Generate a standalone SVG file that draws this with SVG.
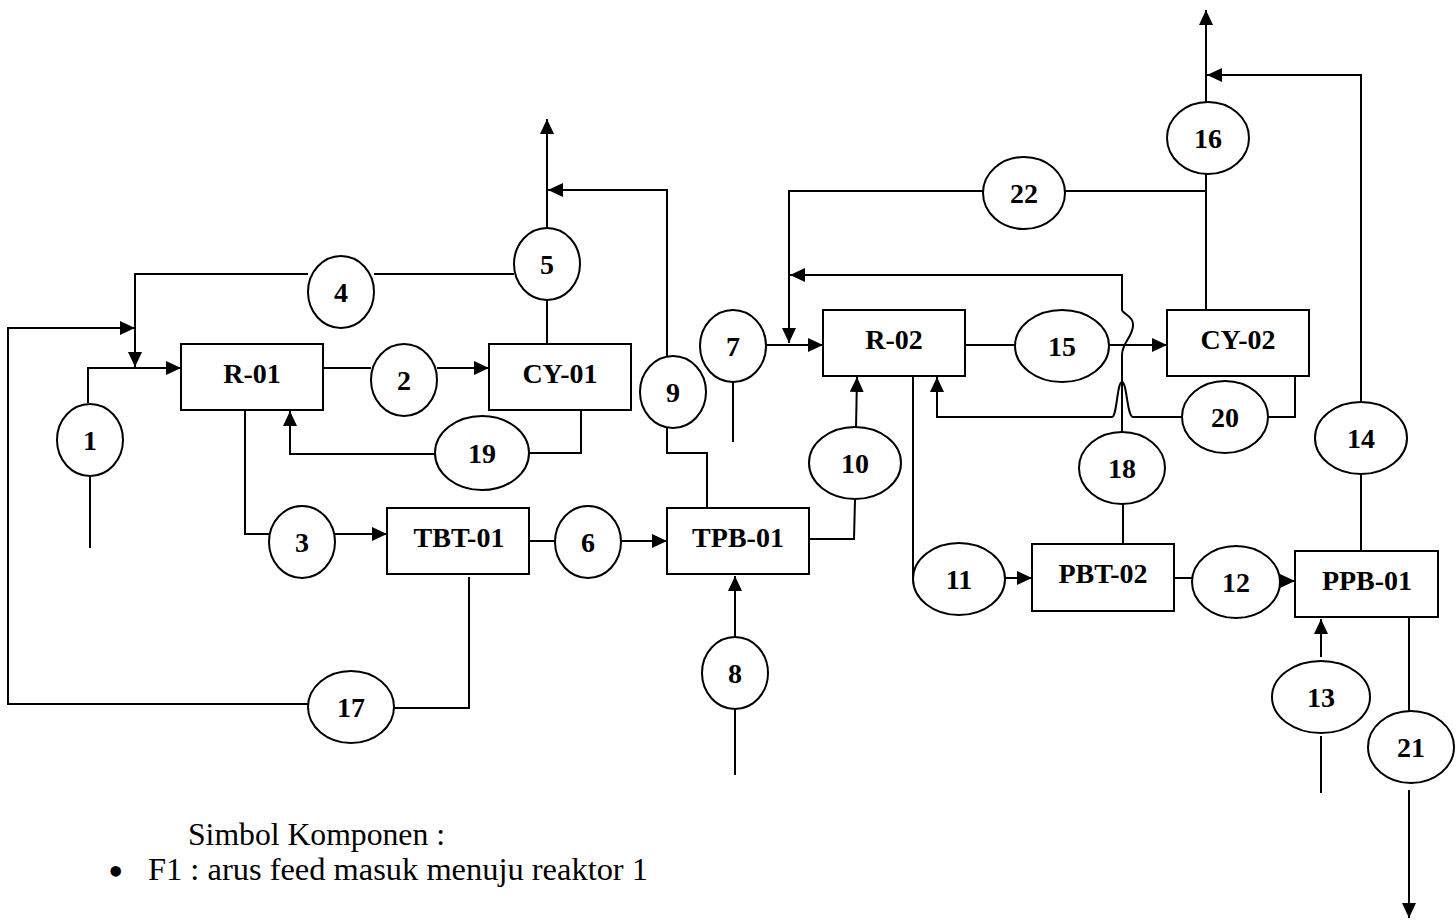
<svg xmlns="http://www.w3.org/2000/svg" width="1456" height="921" viewBox="0 0 1456 921">
<style>
  .ln{fill:none;stroke:#000;stroke-width:2}
  .box{fill:#fff;stroke:#000;stroke-width:2}
  .el{fill:#fff;stroke:#000;stroke-width:2}
  .lbl{font-family:"Liberation Serif","Times New Roman",serif;font-weight:bold;font-size:28px;text-anchor:middle;fill:#000}
  .txt{font-family:"Liberation Serif","Times New Roman",serif;font-size:31px;fill:#000}
</style>
<defs>
  <marker id="arr" markerUnits="userSpaceOnUse" markerWidth="16" markerHeight="16" refX="15" refY="7" orient="auto">
    <path d="M0,0 L15,7 L0,14 z" fill="#000"/>
  </marker>
</defs>
<rect width="1456" height="921" fill="#fff"/>

<g id="connectors">
  <path class="ln" d="M90,548 V477"/>
  <path class="ln" d="M88,403 V368 H181" marker-end="url(#arr)"/>
  <path class="ln" d="M514,274 H374"/>
  <path class="ln" d="M308,274 H135 V367" marker-end="url(#arr)"/>
  <path class="ln" d="M469,577 V708 H394"/>
  <path class="ln" d="M308,704 H8 V328 H135" marker-end="url(#arr)"/>
  <path class="ln" d="M323,368 H371"/>
  <path class="ln" d="M437,368 H489" marker-end="url(#arr)"/>
  <path class="ln" d="M547,344 V300"/>
  <path class="ln" d="M547,228 V119" marker-end="url(#arr)"/>
  <path class="ln" d="M581,410 V453 H529"/>
  <path class="ln" d="M435,454 H290 V411" marker-end="url(#arr)"/>
  <path class="ln" d="M245,410 V534 H269"/>
  <path class="ln" d="M335,534 H387" marker-end="url(#arr)"/>
  <path class="ln" d="M529,541 H555"/>
  <path class="ln" d="M620,541 H667" marker-end="url(#arr)"/>
  <path class="ln" d="M707,508 V453 H667 V428"/>
  <path class="ln" d="M667,357 V190 H548" marker-end="url(#arr)"/>
  <path class="ln" d="M735,775 V709"/>
  <path class="ln" d="M735,637 V576" marker-end="url(#arr)"/>
  <path class="ln" d="M733,442 V382"/>
  <path class="ln" d="M766,345 H823" marker-end="url(#arr)"/>
  <path class="ln" d="M809,539 H854 L855,500"/>
  <path class="ln" d="M856,428 L857,377" marker-end="url(#arr)"/>
  <path class="ln" d="M1206,191 H1065"/>
  <path class="ln" d="M983,191 H789 V343" marker-end="url(#arr)"/>
  <path class="ln" d="M1206,310 V174"/>
  <path class="ln" d="M1206,102 V10" marker-end="url(#arr)"/>
  <path class="ln" d="M1361,551 V474"/>
  <path class="ln" d="M1361,402 V75 H1207" marker-end="url(#arr)"/>
  <path class="ln" d="M965,345 H1015"/>
  <path class="ln" d="M1109,345 H1167" marker-end="url(#arr)"/>
  <path class="ln" d="M1123,544 V504"/>
  <path class="ln" d="M1122,432 V355 C1122,342 1134,336 1133,324 C1133,316 1123,314 1122,310 V275 H790" marker-end="url(#arr)"/>
  <path class="ln" d="M1295,376 V417 H1268"/>
  <path class="ln" d="M1182,417 H1133 C1127,417 1127,382 1122,382 C1117,382 1117,417 1112,417 H937 V377" marker-end="url(#arr)"/>
  <path class="ln" d="M913,376 V579"/>
  <path class="ln" d="M1005,578 H1032" marker-end="url(#arr)"/>
  <path class="ln" d="M1174,578 H1192"/>
  <path class="ln" d="M1279,581 H1295" marker-end="url(#arr)"/>
  <path class="ln" d="M1321,793 V736"/>
  <path class="ln" d="M1321,657 V619" marker-end="url(#arr)"/>
  <path class="ln" d="M1409,617 V711"/>
  <path class="ln" d="M1409,790 V918" marker-end="url(#arr)"/>
</g>

<g id="R-01"><rect class="box" x="181" y="344" width="142" height="66"/><text class="lbl" x="252" y="383">R-01</text></g>
<g id="CY-01"><rect class="box" x="489" y="344" width="142" height="66"/><text class="lbl" x="560" y="383">CY-01</text></g>
<g id="TBT-01"><rect class="box" x="387" y="508" width="142" height="66"/><text class="lbl" x="459" y="547">TBT-01</text></g>
<g id="TPB-01"><rect class="box" x="667" y="508" width="142" height="66"/><text class="lbl" x="738" y="547">TPB-01</text></g>
<g id="R-02"><rect class="box" x="823" y="310" width="142" height="66"/><text class="lbl" x="894" y="349">R-02</text></g>
<g id="CY-02"><rect class="box" x="1167" y="310" width="142" height="66"/><text class="lbl" x="1238" y="349">CY-02</text></g>
<g id="PBT-02"><rect class="box" x="1032" y="544" width="142" height="67"/><text class="lbl" x="1103" y="583">PBT-02</text></g>
<g id="PPB-01"><rect class="box" x="1295" y="551" width="143" height="66"/><text class="lbl" x="1367" y="590">PPB-01</text></g>

<g id="s1"><ellipse class="el" cx="90" cy="440" rx="33" ry="36"/><text class="lbl" x="90" y="450">1</text></g>
<g id="s2"><ellipse class="el" cx="404" cy="380" rx="33" ry="36"/><text class="lbl" x="404" y="390">2</text></g>
<g id="s3"><ellipse class="el" cx="302" cy="542" rx="33" ry="36"/><text class="lbl" x="302" y="552">3</text></g>
<g id="s4"><ellipse class="el" cx="341" cy="292" rx="33" ry="36"/><text class="lbl" x="341" y="302">4</text></g>
<g id="s5"><ellipse class="el" cx="547" cy="264" rx="33" ry="36"/><text class="lbl" x="547" y="274">5</text></g>
<g id="s6"><ellipse class="el" cx="588" cy="542" rx="33" ry="36"/><text class="lbl" x="588" y="552">6</text></g>
<g id="s7"><ellipse class="el" cx="733" cy="346" rx="33" ry="36"/><text class="lbl" x="733" y="356">7</text></g>
<g id="s8"><ellipse class="el" cx="735" cy="673" rx="33" ry="36"/><text class="lbl" x="735" y="683">8</text></g>
<g id="s9"><ellipse class="el" cx="673" cy="392" rx="33" ry="36"/><text class="lbl" x="673" y="402">9</text></g>
<g id="s10"><ellipse class="el" cx="855" cy="463" rx="46" ry="36"/><text class="lbl" x="855" y="473">10</text></g>
<g id="s11"><ellipse class="el" cx="959" cy="579" rx="46" ry="36"/><text class="lbl" x="959" y="589">11</text></g>
<g id="s12"><ellipse class="el" cx="1236" cy="582" rx="44" ry="36"/><text class="lbl" x="1236" y="592">12</text></g>
<g id="s13"><ellipse class="el" cx="1321" cy="697" rx="49" ry="36"/><text class="lbl" x="1321" y="707">13</text></g>
<g id="s14"><ellipse class="el" cx="1361" cy="438" rx="46" ry="36"/><text class="lbl" x="1361" y="448">14</text></g>
<g id="s15"><ellipse class="el" cx="1062" cy="346" rx="47" ry="36"/><text class="lbl" x="1062" y="356">15</text></g>
<g id="s16"><ellipse class="el" cx="1208" cy="138" rx="41" ry="36"/><text class="lbl" x="1208" y="148">16</text></g>
<g id="s17"><ellipse class="el" cx="351" cy="707" rx="43" ry="36"/><text class="lbl" x="351" y="717">17</text></g>
<g id="s18"><ellipse class="el" cx="1122" cy="468" rx="43" ry="36"/><text class="lbl" x="1122" y="478">18</text></g>
<g id="s19"><ellipse class="el" cx="482" cy="453" rx="47" ry="37"/><text class="lbl" x="482" y="463">19</text></g>
<g id="s20"><ellipse class="el" cx="1225" cy="417" rx="43" ry="36"/><text class="lbl" x="1225" y="427">20</text></g>
<g id="s21"><ellipse class="el" cx="1411" cy="747" rx="43" ry="36"/><text class="lbl" x="1411" y="757">21</text></g>
<g id="s22"><ellipse class="el" cx="1024" cy="193" rx="41" ry="36"/><text class="lbl" x="1024" y="203">22</text></g>

<g id="legend">
  <text class="txt" x="188" y="845" textLength="257" lengthAdjust="spacingAndGlyphs">Simbol Komponen :</text>
  <text class="txt" x="108" y="886" style="font-size:44px">•</text>
  <text class="txt" x="148" y="880" textLength="500" lengthAdjust="spacingAndGlyphs">F1 : arus feed masuk menuju reaktor 1</text>
</g>
</svg>
